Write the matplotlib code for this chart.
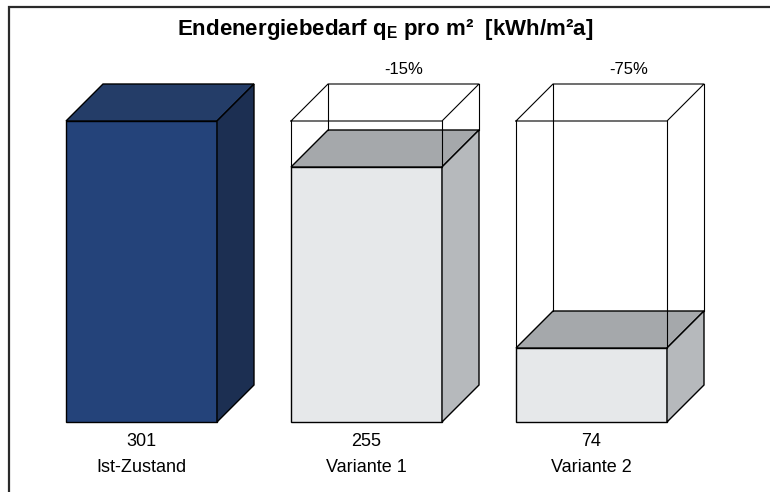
import matplotlib
matplotlib.use("Agg")
import matplotlib.pyplot as plt
from matplotlib.patches import Polygon, Rectangle

plt.rcParams['font.family'] = ['Liberation Sans', 'DejaVu Sans']
plt.rcParams['mathtext.fontset'] = 'custom'
plt.rcParams['mathtext.bf'] = 'Liberation Sans:bold'
plt.rcParams['mathtext.rm'] = 'Liberation Sans'

# ---- data ----
categories = ["Ist-Zustand", "Variante 1", "Variante 2"]
values = [301, 255, 74]
reference_value = values[0]
title = r"Endenergiebedarf q$_\mathbf{E}$ pro m²  [kWh/m²a]"

# ---- styling ----
front_colors = ["#24437a", "#e6e8ea", "#e6e8ea"]
top_colors = ["#243d68", "#a5a8ab", "#a5a8ab"]
side_colors = ["#1c2f52", "#b6b9bc", "#b6b9bc"]

W_PX, H_PX = 770, 492
fig = plt.figure(figsize=(W_PX / 100, H_PX / 100), dpi=100)
ax = fig.add_axes([0, 0, 1, 1])
spacing = 225.0
x0 = 141.5
base = 422.0
ax.set_xlim(-x0 / spacing, (W_PX - x0) / spacing)
ax.set_ylim(-(H_PX - base), base)
ax.axis('off')

w = 151 / spacing
dx = 37 / spacing
dy = 37.0
lw = 1.0

xs = list(range(len(values)))
ax.bar(xs, values, width=w, color=front_colors, edgecolor='black', linewidth=lw, zorder=2)

for i, (xc, h) in enumerate(zip(xs, values)):
    l, r = xc - w / 2, xc + w / 2
    top = Polygon([(l, h), (r, h), (r + dx, h + dy), (l + dx, h + dy)], closed=True,
                  facecolor=top_colors[i], edgecolor='black', linewidth=lw, zorder=2)
    side = Polygon([(r, 0), (r + dx, dy), (r + dx, h + dy), (r, h)], closed=True,
                   facecolor=side_colors[i], edgecolor='black', linewidth=lw, zorder=2)
    ax.add_patch(top)
    ax.add_patch(side)
    # ghost box for reference height
    if i > 0:
        H = reference_value
        kw = dict(color='black', linewidth=0.8, zorder=3)
        ax.plot([l, r, r + dx, l + dx, l], [H, H, H + dy, H + dy, H], **kw)
        ax.plot([l, l], [h, H], **kw)
        ax.plot([r, r], [h, H], **kw)
        ax.plot([l + dx, l + dx], [h + dy, H + dy], **kw)
        ax.plot([r + dx, r + dx], [h + dy, H + dy], **kw)
        pct = round((h / reference_value - 1) * 100)
        ax.text(xc + dx, H + dy + 14, f"{pct}%", ha='center', va='center',
                fontsize=12, zorder=4)
    ax.text(xc, -20, f"{h}", ha='center', va='center', fontsize=13)
    ax.text(xc, -46, categories[i], ha='center', va='center', fontsize=13)

ax.text((385 - x0) / spacing, base - 29, title, ha='center', va='center',
        fontsize=16, fontweight='bold')

frame = Rectangle((9 / W_PX, -0.05), 1.1, (H_PX - 7) / H_PX + 0.05,
                  transform=fig.transFigure, fill=False, edgecolor='#2a2a2a',
                  linewidth=1.6, clip_on=False)
fig.patches.append(frame)

fig.savefig("out.png", dpi=100)
